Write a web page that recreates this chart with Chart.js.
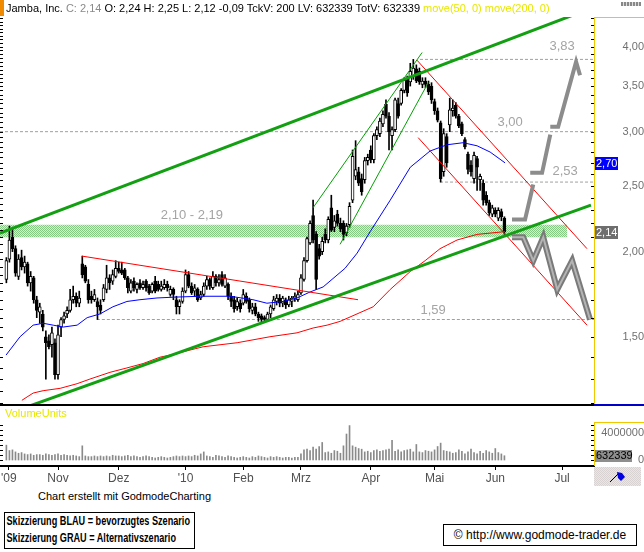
<!DOCTYPE html>
<html>
<head>
<meta charset="utf-8">
<script src="https://cdn.jsdelivr.net/npm/chart.js@4.4.1/dist/chart.umd.min.js"></script>
<style>
  body { margin: 0; background: #fff; }
  #wrap { position: relative; width: 644px; height: 552px; overflow: hidden; font-family: "Liberation Sans", Arial, sans-serif; }
  #head { position: absolute; left: 0; top: 0; height: 16px; font-size: 11px; line-height: 17px; white-space: nowrap; z-index: 2; padding-left: 6px; }
  #head .tag { position: absolute; left: 0; top: 0; width: 4px; height: 16px; background: #f08a00; }
  #head .grey { color: #8a8a8a; }
  #head .yel { color: #e8e800; }
  #icon { position: absolute; left: 621px; top: 2px; width: 20px; height: 4px; background: repeating-linear-gradient(90deg, #888 0 2px, #ddd 2px 3px); z-index: 2; }
  #main { position: absolute; left: 0; top: 0; }
  #vol { position: absolute; left: 0; top: 406px; }
  #credit { position: absolute; left: 38px; top: 490px; font-size: 11px; color: #000; }
  #box1 { position: absolute; left: 4px; top: 512px; width: 189px; height: 35px; border: 1px solid #000; font-weight: bold; font-size: 12px; line-height: 17px; overflow: hidden; }
  #box1 span { display: block; white-space: nowrap; transform-origin: 0 0; padding-left: 2px; width: max-content; }
  #box2 { position: absolute; left: 443px; top: 524px; width: 192px; height: 20px; border: 1px solid #000; font-size: 12px; line-height: 20px; text-align: center; }
</style>
</head>
<body>
<div id="wrap">
  <div id="head"><span class="tag"></span>Jamba, Inc. <span class="grey">C: 2,14</span> O: 2,24 H: 2,25 L: 2,12 -0,09 TckV: 200 LV: 632339 TotV: 632339 <span class="yel">move(50, 0) move(200, 0)</span></div>
  <div id="icon"></div>
  <canvas id="main" width="644" height="406"></canvas>
  <canvas id="vol" width="644" height="84"></canvas>
  <div id="credit">Chart erstellt mit GodmodeCharting</div>
  <div id="box1"><span>Skizzierung BLAU = bevorzugtes Szenario</span><span>Skizzierung GRAU = Alternativszenario</span></div>
  <div id="box2">© http://www.godmode-trader.de</div>
</div>
<script>
// daily candles, trading day index 5 (early Oct 09) .. 169 (early Jun 10)
const firstIdx = 5;
const opens = [
  1.82,1.95,2.10,2.02,1.84,1.96,1.90,1.92,1.80,1.83,1.70,1.63,1.62,1.50,1.48,1.46,1.47,
  1.32,1.55,1.59,1.62,1.64,1.70,1.72,1.68,1.92,1.90,1.79,1.72,1.70,1.69,1.67,1.70,1.76,1.83,1.81,1.84,
  1.89,1.88,1.88,1.83,1.75,1.81,1.76,1.80,1.77,1.81,1.78,1.75,1.81,1.79,1.76,1.77,1.79,1.73,1.76,1.70,1.66,1.69,
  1.75,1.85,1.78,1.75,1.76,1.71,1.73,1.78,1.82,1.77,1.84,1.80,1.85,1.78,1.79,1.72,1.70,1.66,1.68,
  1.68,1.72,1.70,1.64,1.66,1.62,1.61,1.60,1.59,1.62,1.65,1.69,1.71,1.68,1.70,1.67,1.69,1.71,1.70,
  1.74,1.82,1.94,2.06,2.26,2.12,2.02,2.00,2.12,2.08,2.32,2.17,2.27,2.20,2.20,2.13,2.19,2.38,2.58,2.62,2.56,2.55,2.72,
  2.82,2.73,2.96,2.98,3.08,3.29,3.16,2.96,3.02,3.30,3.30,3.45,3.58,3.55,3.62,3.71,3.68,3.52,3.56,3.52,3.50,
  3.32,3.22,3.09,2.62,2.95,3.07,3.22,3.28,3.16,3.08,2.92,2.78,2.68,2.56,2.74,2.55,2.52,2.42,2.36,2.27,
  2.30,2.24,2.29,2.24
];
const highs = [
  1.96,2.18,2.16,2.04,1.98,2.01,1.97,1.93,1.87,1.84,1.72,1.68,1.64,1.53,1.51,1.55,1.49,
  1.56,1.60,1.63,1.66,1.76,1.78,1.74,1.75,1.97,1.91,1.82,1.75,1.76,1.71,1.70,1.79,1.91,1.85,1.88,1.94,
  1.93,1.93,1.89,1.84,1.82,1.83,1.80,1.82,1.81,1.82,1.79,1.80,1.84,1.81,1.81,1.82,1.81,1.78,1.77,1.72,1.70,1.77,
  1.88,1.87,1.80,1.79,1.77,1.75,1.80,1.84,1.83,1.87,1.85,1.85,1.87,1.85,1.80,1.74,1.72,1.71,1.70,
  1.76,1.74,1.71,1.68,1.68,1.63,1.62,1.61,1.63,1.67,1.72,1.73,1.73,1.72,1.71,1.72,1.72,1.74,1.75,
  1.85,1.96,2.10,2.22,2.38,2.14,2.05,2.10,2.16,2.25,2.42,2.26,2.30,2.24,2.22,2.20,2.36,2.82,2.91,2.66,2.60,2.75,2.78,
  2.86,2.98,3.05,3.14,3.22,3.34,3.20,3.05,3.36,3.36,3.47,3.60,3.62,3.78,3.83,3.76,3.72,3.60,3.60,3.56,3.54,
  3.35,3.25,3.11,3.03,2.98,3.36,3.34,3.31,3.18,3.10,2.94,2.80,2.72,2.80,2.76,2.60,2.55,2.45,2.38,2.34,
  2.32,2.32,2.31,2.25
];
const lows = [
  1.80,1.93,2.00,1.84,1.82,1.88,1.86,1.78,1.75,1.68,1.60,1.57,1.53,1.30,1.44,1.40,1.30,
  1.30,1.50,1.57,1.60,1.63,1.68,1.66,1.66,1.83,1.80,1.68,1.68,1.69,1.59,1.62,1.69,1.74,1.76,1.79,1.83,
  1.86,1.85,1.82,1.74,1.74,1.75,1.74,1.76,1.76,1.75,1.73,1.74,1.74,1.75,1.75,1.76,1.75,1.72,1.70,1.62,1.62,1.68,
  1.74,1.77,1.73,1.72,1.69,1.70,1.72,1.76,1.76,1.76,1.78,1.78,1.78,1.77,1.70,1.66,1.63,1.64,1.63,
  1.67,1.68,1.63,1.62,1.61,1.58,1.57,1.58,1.58,1.60,1.64,1.67,1.66,1.66,1.65,1.66,1.66,1.69,1.69,
  1.73,1.81,1.93,2.05,2.06,1.76,1.95,1.98,2.06,2.06,2.14,2.14,2.18,2.14,2.08,2.11,2.17,2.36,2.55,2.50,2.42,2.52,2.68,
  2.70,2.70,2.92,2.95,3.05,3.14,2.82,2.82,3.00,3.14,3.28,3.42,3.38,3.50,3.58,3.54,3.52,3.48,3.48,3.40,3.30,
  3.18,3.10,2.53,2.58,2.66,3.00,3.16,3.14,3.04,2.96,2.83,2.60,2.58,2.52,2.46,2.46,2.34,2.34,2.26,2.25,
  2.25,2.22,2.22,2.12
];
const closes = [
  1.94,2.08,2.02,1.86,1.95,1.90,1.93,1.80,1.84,1.70,1.64,1.66,1.55,1.47,1.45,1.52,1.32,
  1.51,1.59,1.61,1.64,1.70,1.72,1.68,1.71,1.85,1.81,1.70,1.70,1.73,1.66,1.64,1.77,1.83,1.80,1.85,1.89,
  1.87,1.86,1.83,1.77,1.80,1.77,1.79,1.77,1.79,1.77,1.74,1.79,1.75,1.76,1.78,1.79,1.77,1.76,1.73,1.66,1.69,1.75,
  1.85,1.78,1.74,1.77,1.70,1.73,1.78,1.82,1.78,1.84,1.80,1.82,1.79,1.83,1.72,1.69,1.65,1.69,1.65,
  1.73,1.69,1.65,1.66,1.62,1.60,1.59,1.59,1.62,1.66,1.70,1.71,1.68,1.71,1.67,1.70,1.71,1.72,1.73,
  1.83,1.94,2.09,2.20,2.08,1.82,1.97,2.07,2.08,2.23,2.15,2.22,2.20,2.16,2.12,2.18,2.33,2.76,2.64,2.52,2.45,2.72,2.75,
  2.73,2.96,3.02,3.11,3.18,3.16,3.00,3.02,3.34,3.16,3.45,3.57,3.42,3.68,3.72,3.56,3.55,3.56,3.52,3.43,3.34,
  3.22,3.12,2.56,2.98,2.70,3.23,3.25,3.16,3.06,2.98,2.85,2.64,2.62,2.77,2.66,2.58,2.38,2.36,2.28,2.32,
  2.27,2.30,2.25,2.14
];
// volume in millions
const volumes = [
  2.2,1.4,1.5,1.2,1.0,1.1,0.9,0.8,0.9,0.7,0.8,0.8,0.7,0.9,0.8,0.7,0.8,
  0.9,0.7,0.8,0.7,0.6,0.7,0.6,0.5,2.1,0.6,0.5,0.5,0.6,0.5,0.6,0.5,0.6,0.5,0.7,0.6,
  0.6,0.5,0.6,0.7,0.5,0.6,0.5,0.4,0.5,0.6,0.5,0.4,0.3,0.4,0.5,0.4,0.3,0.4,0.5,0.6,0.5,0.6,
  0.5,0.6,0.5,0.7,0.6,0.9,1.2,0.6,0.5,0.4,0.7,0.6,0.5,0.4,0.6,0.5,0.4,0.3,0.4,
  0.5,0.4,0.3,0.5,0.4,0.6,0.5,0.4,0.3,0.5,0.4,0.5,0.4,0.3,0.4,0.4,0.3,0.4,0.4,
  0.9,1.5,1.6,1.4,1.9,1.6,2.0,2.6,1.1,1.2,1.0,1.4,1.3,1.0,2.1,3.85,5.1,2.1,1.9,1.7,1.6,1.2,1.3,
  1.1,1.4,1.5,1.3,1.4,1.5,1.6,2.9,1.3,1.5,1.2,1.4,1.5,1.6,1.2,2.3,1.2,1.1,1.4,1.3,1.2,
  1.5,2.0,2.5,1.4,1.3,1.2,1.0,1.1,1.5,1.3,0.9,1.2,1.6,1.1,0.9,1.3,1.0,1.4,1.2,1.0,
  1.7,1.1,0.9,0.632339
];

const monthIdx = [5.8, 22, 42, 64, 83, 102, 125, 146, 166, 188];
const monthLabels = ["'09", 'Nov', 'Dez', "'10", 'Feb', 'Mrz', 'Apr', 'Mai', 'Jun', 'Jul'];
const priceTicks = [1.5, 2, 2.5, 3, 3.5, 4];
const volumeTicks = [0, 4];

// move(50) blue and move(200) red, read point by point
const ma50Idx = [4.9, 9.5, 13.8, 17.1, 20.4, 23.7, 28.3, 31.6, 35.8, 40.1, 44.7, 49, 54.6, 60.5, 68.8, 78.7, 86.2, 90.8, 96.1, 100.7, 105, 109.3, 116.5, 120.5, 124.8, 131.4, 138, 144.5, 150.1, 155.4, 160, 164.3, 169.2];
const ma50Val = [1.41, 1.50, 1.56, 1.57, 1.56, 1.55, 1.56, 1.60, 1.62, 1.66, 1.69, 1.70, 1.71, 1.715, 1.72, 1.72, 1.70, 1.68, 1.69, 1.71, 1.745, 1.775, 1.89, 1.99, 2.14, 2.38, 2.66, 2.81, 2.87, 2.89, 2.86, 2.80, 2.70];
const ma200Idx = [10.1, 13.8, 17.1, 22.7, 28.3, 32.5, 39.1, 44.7, 50, 55.6, 58.9, 69.8, 81, 91.8, 100.7, 106, 110.6, 114.9, 125.8, 131.4, 138, 142.9, 147.8, 153.4, 160, 169.2];
const ma200Val = [1.21, 1.24, 1.25, 1.26, 1.28, 1.30, 1.33, 1.35, 1.37, 1.40, 1.41, 1.45, 1.47, 1.50, 1.52, 1.545, 1.56, 1.58, 1.66, 1.76, 1.87, 1.94, 2.02, 2.08, 2.12, 2.14];

// drawn trend lines: [fromIdx, fromPrice, toIdx, toPrice]
const greenChannelTop = [2.9, 2.13, 198.5, 4.57];
const greenChannelBottom = [11, 1.18, 197.5, 2.34];
const rallyChannelTop = [106, 2.32, 141.9, 3.92];
const rallyChannelBottom = [114.9, 2.05, 143.9, 3.54];
const resistanceLine = [29.9, 1.97, 120.8, 1.70];
const fallChannelTop = [140.2, 3.82, 196.2, 2.02];
const fallChannelBottom = [140.6, 2.94, 196.2, 1.56];

// horizontal marks
const levelVals = [3.83, 3.00, 2.53, 1.59];
const levelFrom = [141.2, 2.9, 147.8, 34.8];
const levelTo = 198.5;
const zoneLow = 2.10, zoneHigh = 2.19, zoneFrom = 2.9, zoneTo = 189.7;
const noteText = ['3,83', '3,00', '2,53', '1,59', '2,10 - 2,19'];
const noteIdx = [188, 170.9, 189, 145.5, 66.1];
const noteVal = [4.00, 3.10, 2.62, 1.64, 2.26];

// scenario sketches
const scenarioUp = [
  [[171.5, 2.23], [175.8, 2.23], [178.5, 2.51]],
  [[177.5, 2.61], [181.4, 2.61], [184.1, 2.97]],
  [[184.1, 3.05], [186.7, 3.05], [192.6, 3.80], [193.9, 3.63]]
];
const scenarioDown = [[171.5, 2.10], [175.2, 2.10], [178.5, 1.94], [181.8, 2.10], [186.4, 1.76], [191.3, 1.94], [197.2, 1.59]];

const lastClose = 2.14, lastMa50 = 2.70, lastVolume = 0.632339;
const xMin = 2.9, xMax = 198.5;
const priceMin = 1.191, priceMax = 4.42;

const FONT = '"Liberation Sans", Arial, sans-serif';
const fmt = (v) => v.toFixed(2).replace('.', ',');
const pts = (arr) => arr.map(([x, y]) => ({ x, y }));
const seg = (t) => [{ x: t[0], y: t[1] }, { x: t[2], y: t[3] }];
const candleIdx = opens.map((_, k) => firstIdx + k);

// squeeze the bold legend lines to the narrow width of the original
const legendLines = document.querySelectorAll('#box1 span');
const squeeze = 185 / legendLines[0].getBoundingClientRect().width;
legendLines.forEach((el) => { el.style.transform = 'scaleX(' + squeeze + ')'; });

const zoneFill = (() => {
  const c = document.createElement('canvas');
  c.width = 2; c.height = 2;
  const g = c.getContext('2d');
  g.fillStyle = '#d6efd6'; g.fillRect(0, 0, 2, 2);
  g.fillStyle = '#84c884'; g.fillRect(0, 0, 1, 1); g.fillRect(1, 1, 1, 1);
  return g.createPattern(c, 'repeat');
})();

const line = (data, color, width, order, extra = {}) => ({
  type: 'line', data, borderColor: color, borderWidth: width, pointRadius: 0,
  fill: false, tension: 0, order, ...extra
});

const fixAxis = (w, h) => (s) => {
  if (w) s.width = w;
  if (h) s.height = h;
  s.paddingTop = 0; s.paddingBottom = 0; s.paddingLeft = 0; s.paddingRight = 0;
};

const mainDecor = {
  id: 'mainDecor',
  afterDatasetsDraw(chart) {
    const { ctx, scales: { x, y } } = chart;
    ctx.save();
    ctx.font = '13px ' + FONT;
    ctx.fillStyle = '#a4a4a4';
    ctx.textAlign = 'center';
    ctx.textBaseline = 'middle';
    noteText.forEach((t, k) => ctx.fillText(t, x.getPixelForValue(noteIdx[k]), y.getPixelForValue(noteVal[k])));
    ctx.restore();
  },
  afterDraw(chart) {
    const { ctx, scales: { y }, chartArea: a } = chart;
    ctx.save();
    ctx.fillStyle = '#000';
    // small ticks on both edges
    for (let v = 1.2; v <= 4.41; v += 0.05) {
      const py = Math.round(y.getPixelForValue(v));
      if (py >= a.top && py <= a.bottom) ctx.fillRect(0, py, 3, 1);
    }
    for (let v = 1.2; v <= 4.41; v += 0.1) {
      const py = Math.round(y.getPixelForValue(v));
      if (py >= a.top && py <= a.bottom) ctx.fillRect(a.right - 3, py, 3, 1);
    }
    ctx.fillStyle = '#f0c800';
    ctx.fillRect(a.right, a.top, 1, a.bottom - a.top);
    ctx.fillRect(a.right, a.top, 50, 1);
    ctx.fillStyle = '#000';
    ctx.fillRect(0, a.bottom - 1, a.right, 2);
    ctx.fillStyle = '#0000c8';
    ctx.fillRect(a.right, a.bottom - 1, 50, 2);

    ctx.font = '11px ' + FONT;
    ctx.textBaseline = 'middle';
    ctx.textAlign = 'left';
    [[lastMa50, '#0000ff'], [lastClose, '#6e6e6e']].forEach(([v, bg]) => {
      const py = Math.round(y.getPixelForValue(v));
      ctx.fillStyle = bg;
      ctx.fillRect(a.right + 1, py - 6, 23, 13);
      ctx.fillStyle = '#fff';
      ctx.fillText(fmt(v), a.right + 2, py + 1);
    });
    ctx.restore();
  }
};

new Chart(document.getElementById('main'), {
  type: 'bar',
  data: {
    datasets: [
      line(seg([zoneFrom, zoneHigh, zoneTo, zoneHigh]), 'rgba(0,0,0,0)', 0, 20),
      line(seg([zoneFrom, zoneLow, zoneTo, zoneLow]), 'rgba(0,0,0,0)', 0, 19, { fill: '-1', backgroundColor: zoneFill }),
      ...levelVals.map((v, k) => line(seg([levelFrom[k], v, levelTo, v]), '#a0a0a0', 1, 15, { borderDash: [3, 2] })),
      {
        type: 'bar', data: candleIdx.map((x, k) => ({ x, y: [lows[k], highs[k]] })),
        backgroundColor: '#000', barThickness: 1, grouped: false, order: 10
      },
      {
        type: 'bar', data: candleIdx.map((x, k) => ({ x, y: [opens[k], closes[k]] })),
        backgroundColor: closes.map((c, k) => (c >= opens[k] ? '#fff' : '#000')),
        borderColor: '#000', borderWidth: 1, borderSkipped: false,
        barThickness: 3, grouped: false, order: 9
      },
      line(ma50Idx.map((x, k) => ({ x, y: ma50Val[k] })), '#0000ff', 1, 5),
      line(ma200Idx.map((x, k) => ({ x, y: ma200Val[k] })), '#ff0000', 1, 5),
      line(seg(resistanceLine), '#ff0000', 1, 3),
      line(seg(fallChannelTop), '#ff0000', 1, 3),
      line(seg(fallChannelBottom), '#ff0000', 1, 3),
      line(seg(rallyChannelTop), '#00a000', 1, 3),
      line(seg(rallyChannelBottom), '#00a000', 1, 3),
      line(seg(greenChannelTop), '#12a012', 3, 2),
      line(seg(greenChannelBottom), '#12a012', 3, 2),
      ...scenarioUp.map((s) => line(pts(s), '#8c8c8c', 4, 1, { borderJoinStyle: 'miter' })),
      line(pts(scenarioDown), '#7a7a7a', 6, 1, { borderJoinStyle: 'miter' }),
      line(pts(scenarioDown), '#b4b4b4', 2, 0, { borderJoinStyle: 'miter' })
    ]
  },
  options: {
    responsive: false, animation: false, devicePixelRatio: 1,
    layout: { padding: { top: 17, bottom: 1, left: 0, right: 0 } },
    plugins: { legend: { display: false }, tooltip: { enabled: false } },
    scales: {
      x: { type: 'linear', min: xMin, max: xMax, bounds: 'data', offset: false, display: false },
      y: {
        type: 'logarithmic', position: 'right', min: priceMin, max: priceMax, bounds: 'data',
        afterFit: fixAxis(50, 0),
        afterBuildTicks: (s) => { s.ticks = priceTicks.map((v) => ({ value: v })); },
        grid: { display: false, drawTicks: false },
        border: { display: false },
        ticks: { crossAlign: 'far', padding: 22, color: '#707070', font: { family: 'Liberation Sans', size: 11 }, callback: (v) => fmt(v) }
      }
    }
  },
  plugins: [mainDecor]
});

const volDecor = {
  id: 'volDecor',
  afterDraw(chart) {
    const { ctx, scales: { y }, chartArea: a } = chart;
    ctx.save();
    ctx.font = '11px ' + FONT;
    ctx.fillStyle = '#e8e800';
    ctx.textBaseline = 'middle';
    ctx.fillText('VolumeUnits', 5, 8);
    ctx.fillStyle = '#000';
    for (let v = 0; v <= 5.3; v += 0.75) {
      const py = Math.round(y.getPixelForValue(v));
      ctx.fillRect(0, py, 3, 1);
      ctx.fillRect(a.right - 3, py, 3, 1);
    }
    ctx.fillStyle = '#f0c800';
    ctx.fillRect(a.right, a.top, 1, a.bottom - a.top);
    ctx.fillRect(a.right, a.top, 50, 1);
    // last volume box
    const py = Math.round(y.getPixelForValue(lastVolume));
    ctx.fillStyle = '#8e8e8e';
    ctx.fillRect(a.right + 1, py - 6, 37, 12);
    ctx.fillStyle = '#000';
    ctx.fillText(String(Math.round(lastVolume * 1e6)), a.right + 2, py);
    // corner box with flag
    const bx = a.right, by = a.bottom + 1;
    for (let i = 0; i < 47; i++) {
      for (let j = 0; j < 19; j++) {
        ctx.fillStyle = (i + j) % 2 ? '#d8d2d2' : '#ece6e6';
        ctx.fillRect(bx + i, by + j, 1, 1);
      }
    }
    ctx.strokeStyle = '#000';
    ctx.lineWidth = 1;
    ctx.beginPath(); ctx.moveTo(bx + 16, by + 15); ctx.lineTo(bx + 24, by + 7); ctx.stroke();
    ctx.fillStyle = '#0000e0';
    ctx.beginPath();
    ctx.moveTo(bx + 23, by + 5); ctx.lineTo(bx + 28, by + 6); ctx.lineTo(bx + 31, by + 10);
    ctx.lineTo(bx + 27, by + 14); ctx.lineTo(bx + 24, by + 11); ctx.closePath(); ctx.fill();
    ctx.restore();
  }
};

new Chart(document.getElementById('vol'), {
  type: 'bar',
  data: {
    datasets: [{
      data: candleIdx.map((x, k) => ({ x, y: volumes[k] })),
      backgroundColor: '#8a8a8a', barThickness: 1, grouped: false
    }]
  },
  options: {
    responsive: false, animation: false, devicePixelRatio: 1,
    layout: { padding: { top: 16, bottom: 0, left: 0, right: 0 } },
    plugins: { legend: { display: false }, tooltip: { enabled: false } },
    scales: {
      x: {
        type: 'linear', min: xMin, max: xMax, bounds: 'data', offset: false, position: 'bottom',
        afterFit: fixAxis(0, 24),
        afterBuildTicks: (s) => { s.ticks = monthIdx.map((v) => ({ value: v })); },
        grid: { display: true, drawOnChartArea: false, drawTicks: true, tickLength: 4, color: '#000', offset: false },
        border: { display: true, color: '#000', width: 2 },
        ticks: { autoSkip: false, maxRotation: 0, padding: 1, color: '#505050', font: { family: 'Liberation Sans', size: 12 }, callback: (v, k) => monthLabels[k] }
      },
      y: {
        type: 'linear', position: 'right', min: -0.889, max: 5.63, bounds: 'data',
        afterFit: fixAxis(50, 0),
        afterBuildTicks: (s) => { s.ticks = volumeTicks.map((v) => ({ value: v })); },
        grid: { display: false, drawTicks: false },
        border: { display: false },
        ticks: { crossAlign: 'far', padding: 2, color: '#707070', font: { family: 'Liberation Sans', size: 11 }, callback: (v) => String(Math.round(v * 1e6)) }
      }
    }
  },
  plugins: [volDecor]
});
</script>
</body>
</html>
